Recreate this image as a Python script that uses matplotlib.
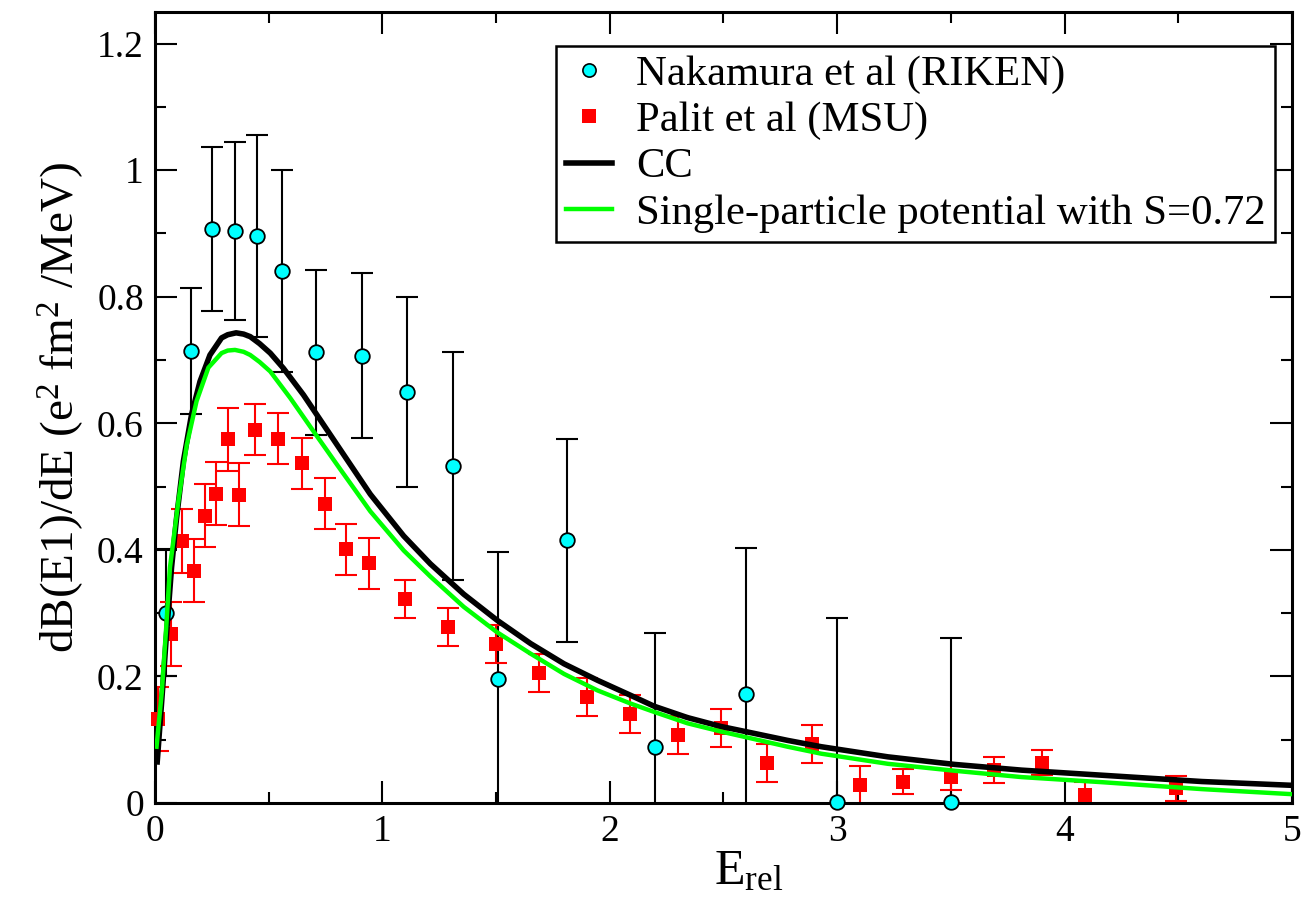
import matplotlib
matplotlib.use("Agg")
import matplotlib.pyplot as plt
from matplotlib.lines import Line2D
from matplotlib.ticker import MultipleLocator, FormatStrFormatter

plt.rcParams['font.family'] = ['Liberation Serif', 'DejaVu Serif']
plt.rcParams['mathtext.fontset'] = 'custom'
plt.rcParams['mathtext.rm'] = 'Liberation Serif'
plt.rcParams['mathtext.it'] = 'Liberation Serif:italic'

# Nakamura et al (RIKEN)
nak_e = [0.05, 0.16, 0.25, 0.35, 0.45, 0.56, 0.71, 0.91, 1.11, 1.31, 1.51, 1.81,
         2.2, 2.6, 3.0, 3.5]
nak_b = [0.301, 0.714, 0.907, 0.904, 0.896, 0.841, 0.712, 0.707, 0.649, 0.532,
         0.196, 0.415, 0.088, 0.173, 0.002, 0.001]
nak_err = [0.10, 0.10, 0.13, 0.14, 0.16, 0.16, 0.13, 0.13, 0.15, 0.18, 0.20, 0.16,
           0.18, 0.23, 0.29, 0.26]

# Palit et al (MSU)
pal_e = [0.015, 0.07, 0.12, 0.17, 0.22, 0.27, 0.32, 0.37, 0.44, 0.54, 0.645, 0.75,
         0.84, 0.94, 1.1, 1.29, 1.5, 1.69, 1.9, 2.09, 2.3, 2.49, 2.69, 2.89, 3.1,
         3.29, 3.5, 3.69, 3.9, 4.09, 4.49]
pal_b = [0.133, 0.267, 0.414, 0.367, 0.454, 0.489, 0.575, 0.487, 0.59, 0.576, 0.537,
         0.473, 0.401, 0.379, 0.322, 0.278, 0.252, 0.205, 0.167, 0.14, 0.108, 0.118,
         0.063, 0.094, 0.028, 0.034, 0.041, 0.052, 0.064, 0.013, 0.023]
pal_err = [0.05, 0.05, 0.05, 0.05, 0.05, 0.05, 0.05, 0.05, 0.04, 0.04, 0.04, 0.04,
           0.04, 0.04, 0.03, 0.03, 0.03, 0.03, 0.03, 0.03, 0.03, 0.03, 0.03, 0.03,
           0.03, 0.02, 0.02, 0.02, 0.02, 0.02, 0.02]

# CC calculation
cc_e = [0.01, 0.03, 0.051, 0.073, 0.095, 0.125, 0.161, 0.198, 0.242, 0.293, 0.32,
        0.357, 0.39, 0.419, 0.46, 0.507, 0.565, 0.653, 0.741, 0.829, 0.947, 1.094,
        1.211, 1.358, 1.504, 1.652, 1.799, 1.946, 2.093, 2.195, 2.342, 2.489, 2.636,
        2.782, 2.93, 3.223, 3.517, 3.811, 4.163, 4.604, 5.0]
cc_b = [0.065, 0.162, 0.267, 0.372, 0.45, 0.54, 0.614, 0.666, 0.708, 0.735, 0.740,
        0.743, 0.741, 0.737, 0.726, 0.711, 0.687, 0.645, 0.598, 0.551, 0.488, 0.422,
        0.378, 0.33, 0.289, 0.252, 0.22, 0.194, 0.17, 0.153, 0.135, 0.121, 0.11,
        0.099, 0.089, 0.073, 0.061, 0.052, 0.044, 0.034, 0.028]

# single-particle potential, S=0.72
sp_e = [0.007, 0.03, 0.05, 0.066, 0.103, 0.14, 0.183, 0.235, 0.293, 0.32, 0.352,
        0.39, 0.419, 0.46, 0.507, 0.595, 0.698, 0.8, 0.947, 1.094, 1.211, 1.358,
        1.504, 1.652, 1.799, 1.946, 2.093, 2.195, 2.342, 2.489, 2.636, 2.782, 2.93,
        3.223, 3.517, 3.811, 4.163, 4.604, 5.0]
sp_b = [0.089, 0.175, 0.28, 0.372, 0.477, 0.566, 0.635, 0.688, 0.711, 0.715, 0.716,
        0.713, 0.708, 0.697, 0.682, 0.64, 0.587, 0.535, 0.461, 0.399, 0.358, 0.31,
        0.27, 0.236, 0.204, 0.178, 0.157, 0.144, 0.126, 0.113, 0.101, 0.089, 0.078,
        0.062, 0.051, 0.041, 0.033, 0.022, 0.014]

fig = plt.figure(figsize=(13.02, 9.14), dpi=100)
ax = fig.add_axes([0.119, 0.1214, 0.8733, 0.8655])

ax.errorbar(nak_e, nak_b, yerr=nak_err, fmt='none', ecolor='black',
            elinewidth=1.5, capsize=8, capthick=1.5, zorder=2)
ax.plot(nak_e, nak_b, 'o', ms=10.5, mfc='#00ffff', mec='black', mew=1.3,
        clip_on=False, zorder=3)

ax.errorbar(pal_e, pal_b, yerr=pal_err, fmt='none', ecolor='red',
            elinewidth=1.5, capsize=8, capthick=1.5, zorder=2)
ax.plot(pal_e, pal_b, 's', ms=10, mfc='red', mec='red', mew=0,
        clip_on=False, zorder=3)

ax.plot(cc_e, cc_b, color='black', lw=4, zorder=4)
ax.plot(sp_e, sp_b, color='#00ff00', lw=3.2, zorder=5)

ax.set_xlim(0, 5)
ax.set_ylim(0, 1.25)
ax.xaxis.set_major_locator(MultipleLocator(1))
ax.xaxis.set_minor_locator(MultipleLocator(0.5))
ax.yaxis.set_major_locator(MultipleLocator(0.2))
ax.yaxis.set_minor_locator(MultipleLocator(0.1))
ax.yaxis.set_major_formatter(FormatStrFormatter('%g'))
ax.tick_params(which='both', direction='in', top=True, right=True, labelsize=27, width=1.5)
ax.tick_params(which='major', length=16, pad=8)
ax.tick_params(which='minor', length=8)
for sp in ax.spines.values():
    sp.set_linewidth(2.2)

ax.set_xlabel(r'E$_{\mathrm{rel}}$', fontsize=36, labelpad=0)
ax.xaxis.label.set_x(0.522)
ax.set_ylabel(r'dB(E1)/dE (e$^{2}$ fm$^{2}$ /MeV)', fontsize=34, labelpad=8)

handles = [
    Line2D([], [], ls='none', marker='o', ms=9.5, mfc='#00ffff', mec='black', mew=1.2),
    Line2D([], [], ls='none', marker='s', ms=9.5, mfc='red', mec='red', mew=0),
    Line2D([], [], color='black', lw=4),
    Line2D([], [], color='#00ff00', lw=3.2),
]
labels = ['Nakamura et al (RIKEN)', 'Palit et al (MSU)', 'CC',
          'Single-particle potential with S=0.72']
leg = ax.legend(handles, labels, loc='upper right', bbox_to_anchor=(0.985, 0.957),
                fontsize=30.7, frameon=True, fancybox=False, framealpha=1,
                handlelength=1.1, handletextpad=0.55, labelspacing=0.17,
                borderpad=0.22, borderaxespad=0)
leg.get_frame().set_edgecolor('black')
leg.get_frame().set_linewidth(1.8)

fig.savefig('out.png', dpi=100)
